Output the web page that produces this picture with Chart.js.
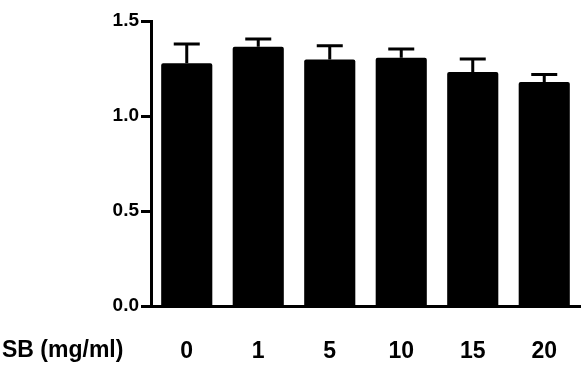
<!DOCTYPE html>
<html>
<head>
<meta charset="utf-8">
<script src="https://cdn.jsdelivr.net/npm/chart.js@4"></script>
<style>
  html, body { margin: 0; padding: 0; background: #fff; }
  #wrap { width: 584px; height: 375px; }
</style>
</head>
<body>
<div id="wrap"><canvas id="sbChart"></canvas></div>
<script>
const doses = ["0", "1", "5", "10", "15", "20"];
const means = [1.277, 1.365, 1.298, 1.307, 1.232, 1.179];
const sem = [0.102, 0.040, 0.072, 0.046, 0.068, 0.040];
const yTicks = [0, 0.5, 1.0, 1.5];
const xTitle = "SB (mg/ml)";

const FONT = "'Liberation Sans', Arial, sans-serif";

// upper error bars only
const errorBars = {
  id: "errorBars",
  afterDatasetsDraw(chart) {
    const ctx = chart.ctx;
    const meta = chart.getDatasetMeta(0);
    const y = chart.scales.y;
    ctx.save();
    ctx.strokeStyle = "#000";
    ctx.lineWidth = 3;
    meta.data.forEach((bar, i) => {
      const top = y.getPixelForValue(means[i] + sem[i]);
      const base = y.getPixelForValue(means[i]);
      ctx.beginPath();
      ctx.moveTo(bar.x, base);
      ctx.lineTo(bar.x, top);
      ctx.moveTo(bar.x - 13, top);
      ctx.lineTo(bar.x + 13, top);
      ctx.stroke();
    });
    ctx.restore();
  },
};

// row label left of the dose ticks
const rowLabel = {
  id: "rowLabel",
  afterDraw(chart) {
    const ctx = chart.ctx;
    const x = chart.scales.x;
    ctx.save();
    ctx.font = "bold 23px " + FONT;
    ctx.fillStyle = "#000";
    ctx.textAlign = "left";
    ctx.textBaseline = "middle";
    ctx.fillText(xTitle, 2, x.bottom - 24);
    ctx.restore();
  },
};

const ctx = document.getElementById("sbChart").getContext("2d");

const chart = new Chart(ctx, {
  type: "bar",
  data: {
    labels: doses,
    datasets: [
      {
        data: means,
        backgroundColor: "#000",
        borderColor: "#000",
        borderWidth: 0,
        borderRadius: 2,
        borderSkipped: "bottom",
        barPercentage: 0.715,
        categoryPercentage: 1,
      },
    ],
  },
  options: {
    responsive: true,
    maintainAspectRatio: false,
    animation: false,
    layout: {
      padding: { left: 0, right: 4, top: 21, bottom: 0 },
    },
    plugins: {
      legend: { display: false },
      tooltip: { enabled: false },
    },
    scales: {
      x: {
        grid: { display: false },
        border: { display: true, color: "#000", width: 3 },
        ticks: {
          color: "#000",
          padding: 24,
          font: { family: FONT, size: 23, weight: "bold" },
        },
        afterFit(scale) {
          scale.height = 69;
        },
      },
      y: {
        min: 0,
        max: 1.5,
        afterBuildTicks(scale) {
          scale.ticks = yTicks.map((v) => ({ value: v }));
        },
        grid: {
          drawOnChartArea: false,
          drawTicks: true,
          tickLength: 10,
          tickWidth: 3,
          tickColor: "#000",
        },
        border: { display: true, color: "#000", width: 3 },
        ticks: {
          color: "#000",
          padding: 2,
          font: { family: FONT, size: 19, weight: "bold" },
          callback: (v) => Number(v).toFixed(1),
        },
        afterFit(scale) {
          scale.width = 151;
        },
      },
    },
  },
  plugins: [errorBars, rowLabel],
});
</script>
</body>
</html>
